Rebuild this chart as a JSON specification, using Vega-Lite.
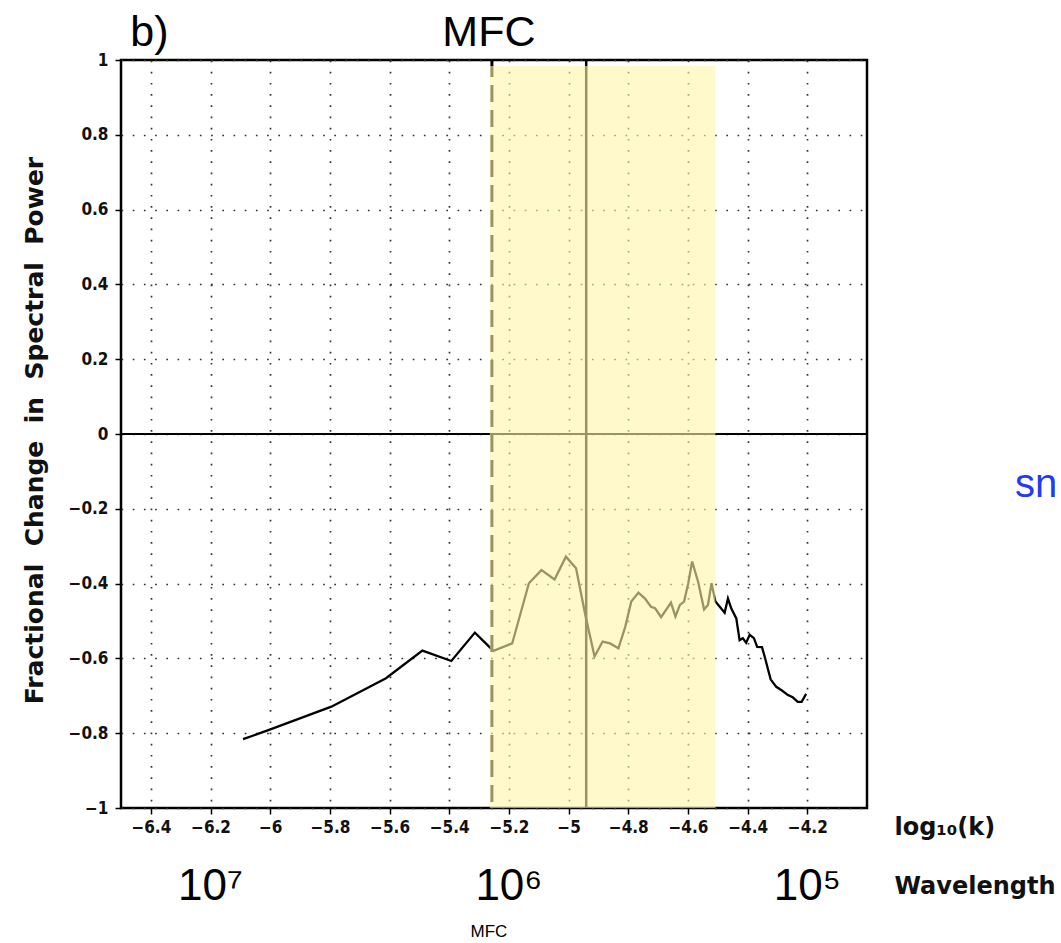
{
  "$schema": "https://vega.github.io/schema/vega-lite/v6.json",
  "width": 746,
  "height": 748,
  "autosize": {"type": "none"},
  "padding": {"left": 121, "top": 60, "right": 194, "bottom": 135},
  "background": "white",
  "config": {
    "view": {"stroke": "black", "strokeWidth": 2.5}
  },
  "datasets": {
    "curve": [
      {"k": -6.091, "v": -0.816}, {"k": -6.013, "v": -0.794}, {"k": -5.795, "v": -0.729},
      {"k": -5.612, "v": -0.653}, {"k": -5.490, "v": -0.579}, {"k": -5.393, "v": -0.607},
      {"k": -5.314, "v": -0.531}, {"k": -5.252, "v": -0.580}, {"k": -5.189, "v": -0.560},
      {"k": -5.133, "v": -0.399}, {"k": -5.091, "v": -0.364}, {"k": -5.047, "v": -0.389},
      {"k": -5.009, "v": -0.328}, {"k": -4.975, "v": -0.359}, {"k": -4.944, "v": -0.484},
      {"k": -4.913, "v": -0.595}, {"k": -4.886, "v": -0.555}, {"k": -4.861, "v": -0.560},
      {"k": -4.833, "v": -0.573}, {"k": -4.810, "v": -0.515}, {"k": -4.790, "v": -0.448},
      {"k": -4.766, "v": -0.424}, {"k": -4.744, "v": -0.440}, {"k": -4.724, "v": -0.462},
      {"k": -4.710, "v": -0.466}, {"k": -4.690, "v": -0.490}, {"k": -4.657, "v": -0.451},
      {"k": -4.642, "v": -0.488}, {"k": -4.627, "v": -0.457}, {"k": -4.613, "v": -0.448},
      {"k": -4.599, "v": -0.399}, {"k": -4.586, "v": -0.341}, {"k": -4.566, "v": -0.395},
      {"k": -4.546, "v": -0.469}, {"k": -4.533, "v": -0.457}, {"k": -4.521, "v": -0.399},
      {"k": -4.508, "v": -0.448}, {"k": -4.477, "v": -0.478}, {"k": -4.466, "v": -0.440},
      {"k": -4.455, "v": -0.466}, {"k": -4.438, "v": -0.493}, {"k": -4.427, "v": -0.551},
      {"k": -4.416, "v": -0.546}, {"k": -4.405, "v": -0.558}, {"k": -4.393, "v": -0.537},
      {"k": -4.379, "v": -0.546}, {"k": -4.368, "v": -0.569}, {"k": -4.352, "v": -0.570},
      {"k": -4.343, "v": -0.595}, {"k": -4.323, "v": -0.656}, {"k": -4.304, "v": -0.676},
      {"k": -4.285, "v": -0.686}, {"k": -4.265, "v": -0.698}, {"k": -4.249, "v": -0.704},
      {"k": -4.232, "v": -0.716}, {"k": -4.219, "v": -0.716}, {"k": -4.204, "v": -0.695}
    ]
  },
  "layer": [
    {
      "data": {"name": "curve"},
      "mark": {"type": "line", "color": "black", "strokeWidth": 2.3},
      "encoding": {
        "x": {
          "field": "k", "type": "quantitative",
          "scale": {"domain": [-6.5, -4.0], "nice": false, "zero": false},
          "axis": {
            "title": null,
            "values": [-6.4, -6.2, -6.0, -5.8, -5.6, -5.4, -5.2, -5.0, -4.8, -4.6, -4.4, -4.2],
            "format": ".1~f",
            "domain": false,
            "grid": true,
            "gridColor": "#333333",
            "gridWidth": 1.7,
            "gridDash": [1.7, 9.5],
            "ticks": true,
            "tickColor": "black",
            "tickWidth": 1.5,
            "tickSize": 6,
            "labelFont": "DejaVu Sans Condensed",
            "labelFontWeight": "bold",
            "labelFontSize": 17,
            "labelColor": "#111111",
            "labelPadding": 5
          }
        },
        "y": {
          "field": "v", "type": "quantitative",
          "scale": {"domain": [-1, 1], "nice": false, "zero": false},
          "axis": {
            "values": [-1, -0.8, -0.6, -0.4, -0.2, 0, 0.2, 0.4, 0.6, 0.8, 1],
            "format": ".1~f",
            "domain": false,
            "grid": true,
            "gridColor": "#333333",
            "gridWidth": 1.7,
            "gridDash": [1.7, 9.5],
            "ticks": true,
            "tickColor": "black",
            "tickWidth": 1.5,
            "tickSize": 6,
            "labelFont": "DejaVu Sans Condensed",
            "labelFontWeight": "bold",
            "labelFontSize": 17,
            "labelColor": "#111111",
            "labelPadding": 7,
            "title": "Fractional\u00a0 Change\u00a0 in\u00a0 Spectral\u00a0 Power",
            "titleFont": "DejaVu Sans",
            "titleFontWeight": "bold",
            "titleFontSize": 25,
            "titleColor": "#111111",
            "titleAngle": -90,
            "titleAlign": "center",
            "titleBaseline": "middle",
            "titleX": -87,
            "titleY": 370
          }
        }
      }
    },
    {
      "data": {"values": [{"v": 0}]},
      "mark": {"type": "rule", "color": "black", "strokeWidth": 2},
      "encoding": {"y": {"field": "v", "type": "quantitative"}}
    },
    {
      "data": {"values": [{"k": -5.257}]},
      "mark": {"type": "rule", "color": "black", "strokeWidth": 3, "strokeDash": [17, 8]},
      "encoding": {"x": {"field": "k", "type": "quantitative"}}
    },
    {
      "data": {"values": [{"k": -4.941}]},
      "mark": {"type": "rule", "color": "black", "strokeWidth": 2.5},
      "encoding": {"x": {"field": "k", "type": "quantitative"}}
    },
    {
      "data": {"values": [{"k": -5.264, "k2": -4.508, "v": -1, "v2": 0.984}]},
      "mark": {"type": "rect", "color": "#fff5a8", "opacity": 0.6},
      "encoding": {
        "x": {"field": "k", "type": "quantitative"},
        "x2": {"field": "k2"},
        "y": {"field": "v", "type": "quantitative"},
        "y2": {"field": "v2"}
      }
    },
    {
      "data": {"values": [{"k": -6.469, "v": 1.037, "t": "b)"}]},
      "mark": {"type": "text", "font": "Liberation Sans", "fontSize": 43, "align": "left", "baseline": "alphabetic", "color": "black"},
      "encoding": {
        "x": {"field": "k", "type": "quantitative"},
        "y": {"field": "v", "type": "quantitative"},
        "text": {"field": "t"}
      }
    },
    {
      "data": {"values": [{"k": -5.267, "v": 1.037, "t": "MFC"}]},
      "mark": {"type": "text", "font": "Liberation Sans", "fontSize": 43, "align": "center", "baseline": "alphabetic", "color": "black"},
      "encoding": {
        "x": {"field": "k", "type": "quantitative"},
        "y": {"field": "v", "type": "quantitative"},
        "text": {"field": "t"}
      }
    },
    {
      "data": {"values": [
        {"k": -6.2, "v": -1.246, "t": "10⁷"},
        {"k": -5.2, "v": -1.246, "t": "10⁶"},
        {"k": -4.2, "v": -1.246, "t": "10⁵"}
      ]},
      "mark": {"type": "text", "font": "Liberation Sans", "fontSize": 44, "align": "center", "baseline": "alphabetic", "color": "black"},
      "encoding": {
        "x": {"field": "k", "type": "quantitative"},
        "y": {"field": "v", "type": "quantitative"},
        "text": {"field": "t"}
      }
    },
    {
      "data": {"values": [{"k": -5.267, "v": -1.345, "t": "MFC"}]},
      "mark": {"type": "text", "font": "Liberation Sans", "fontSize": 17, "align": "center", "baseline": "alphabetic", "color": "black"},
      "encoding": {
        "x": {"field": "k", "type": "quantitative"},
        "y": {"field": "v", "type": "quantitative"},
        "text": {"field": "t"}
      }
    },
    {
      "data": {"values": [
        {"k": -3.908, "v": -1.072, "t": "log₁₀(k)"},
        {"k": -3.908, "v": -1.230, "t": "Wavelength"}
      ]},
      "mark": {"type": "text", "font": "DejaVu Sans", "fontWeight": "bold", "fontSize": 24, "align": "left", "baseline": "alphabetic", "color": "#111111"},
      "encoding": {
        "x": {"field": "k", "type": "quantitative"},
        "y": {"field": "v", "type": "quantitative"},
        "text": {"field": "t"}
      }
    },
    {
      "data": {"values": [{"k": -3.504, "v": -0.168, "t": "sn"}]},
      "mark": {"type": "text", "font": "Liberation Sans", "fontSize": 40, "align": "left", "baseline": "alphabetic", "color": "#1f3cf5"},
      "encoding": {
        "x": {"field": "k", "type": "quantitative"},
        "y": {"field": "v", "type": "quantitative"},
        "text": {"field": "t"}
      }
    }
  ]
}
